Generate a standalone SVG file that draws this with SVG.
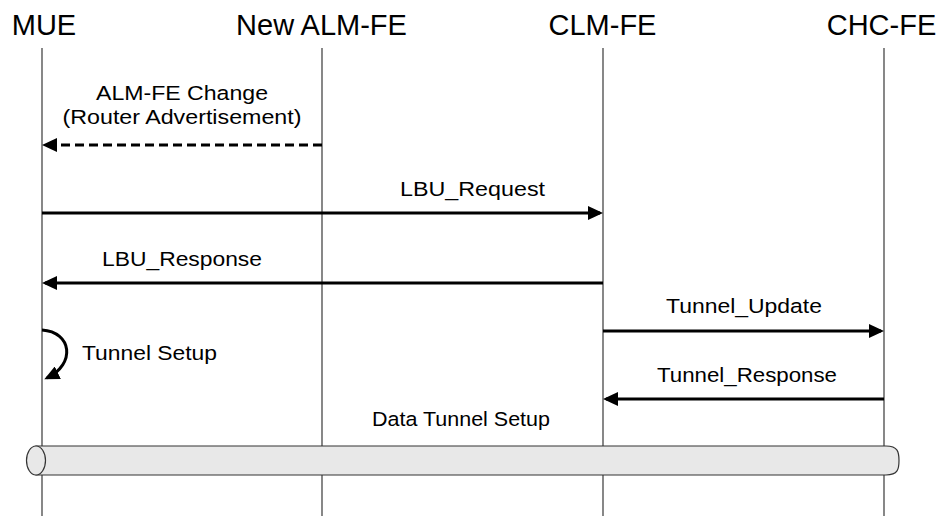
<svg xmlns="http://www.w3.org/2000/svg" width="940" height="516" viewBox="0 0 940 516">
<style>
.hdr{font-family:"Liberation Sans",Arial,sans-serif;font-size:29px;fill:#000;text-anchor:middle}
.lbl{font-family:"Liberation Sans",Arial,sans-serif;font-size:20.5px;fill:#000}
.mid{text-anchor:middle}
.life{stroke:#555;stroke-width:1.4;fill:none}
.msg{stroke:#000;stroke-width:3;fill:none}
</style>
<defs>
<marker id="ah" viewBox="0 0 15 14" refX="12" refY="7" markerWidth="15" markerHeight="14" markerUnits="userSpaceOnUse" orient="auto"><path d="M0,0 L15,7 L0,14 z" fill="#000"/></marker>
</defs>
<rect width="940" height="516" fill="#fff"/>
<g id="MUE"><text class="hdr" x="44" y="35">MUE</text><line class="life" x1="42" y1="48" x2="42" y2="516"/></g>
<g id="NewALMFE"><text class="hdr" x="321.5" y="35">New ALM-FE</text><line class="life" x1="322" y1="48" x2="322" y2="516"/></g>
<g id="CLMFE"><text class="hdr" x="602.5" y="35">CLM-FE</text><line class="life" x1="603" y1="48" x2="603" y2="516"/></g>
<g id="CHCFE"><text class="hdr" x="881.5" y="35">CHC-FE</text><line class="life" x1="884" y1="48" x2="884" y2="516"/></g>
<g id="connectors">
<line class="msg" x1="322" y1="145" x2="45" y2="145" stroke-dasharray="9,5" marker-end="url(#ah)"/>
<text class="lbl mid" x="182" y="100" textLength="172" lengthAdjust="spacingAndGlyphs">ALM-FE Change</text>
<text class="lbl mid" x="182" y="124" textLength="239" lengthAdjust="spacingAndGlyphs">(Router Advertisement)</text>
<line class="msg" x1="42" y1="213" x2="600" y2="213" marker-end="url(#ah)"/>
<text class="lbl mid" x="472.5" y="196" textLength="145" lengthAdjust="spacingAndGlyphs">LBU_Request</text>
<line class="msg" x1="603" y1="283" x2="45" y2="283" marker-end="url(#ah)"/>
<text class="lbl mid" x="182" y="266" textLength="160" lengthAdjust="spacingAndGlyphs">LBU_Response</text>
<line class="msg" x1="603" y1="331" x2="881" y2="331" marker-end="url(#ah)"/>
<text class="lbl mid" x="744" y="313" textLength="156" lengthAdjust="spacingAndGlyphs">Tunnel_Update</text>
<line class="msg" x1="884" y1="399" x2="606" y2="399" marker-end="url(#ah)"/>
<text class="lbl mid" x="747" y="382" textLength="180" lengthAdjust="spacingAndGlyphs">Tunnel_Response</text>
<path class="msg" d="M42,330 C72,332 76,364 47,378" marker-end="url(#ah)" stroke-width="2.6"/>
<text class="lbl" x="82" y="360" textLength="135" lengthAdjust="spacingAndGlyphs">Tunnel Setup</text>
<text class="lbl mid" x="461" y="426" textLength="178" lengthAdjust="spacingAndGlyphs">Data Tunnel Setup</text>
</g>
<g id="tunnel">
<path d="M36,446 H886 C898,446 899,452 899,460.5 C899,469 898,475 886,475 H36 Z" fill="#e8e8e8" stroke="#333" stroke-width="1.2"/>
<ellipse cx="36" cy="460.5" rx="9.5" ry="14.5" fill="#e8e8e8" stroke="#333" stroke-width="1.2"/>
</g>
</svg>
